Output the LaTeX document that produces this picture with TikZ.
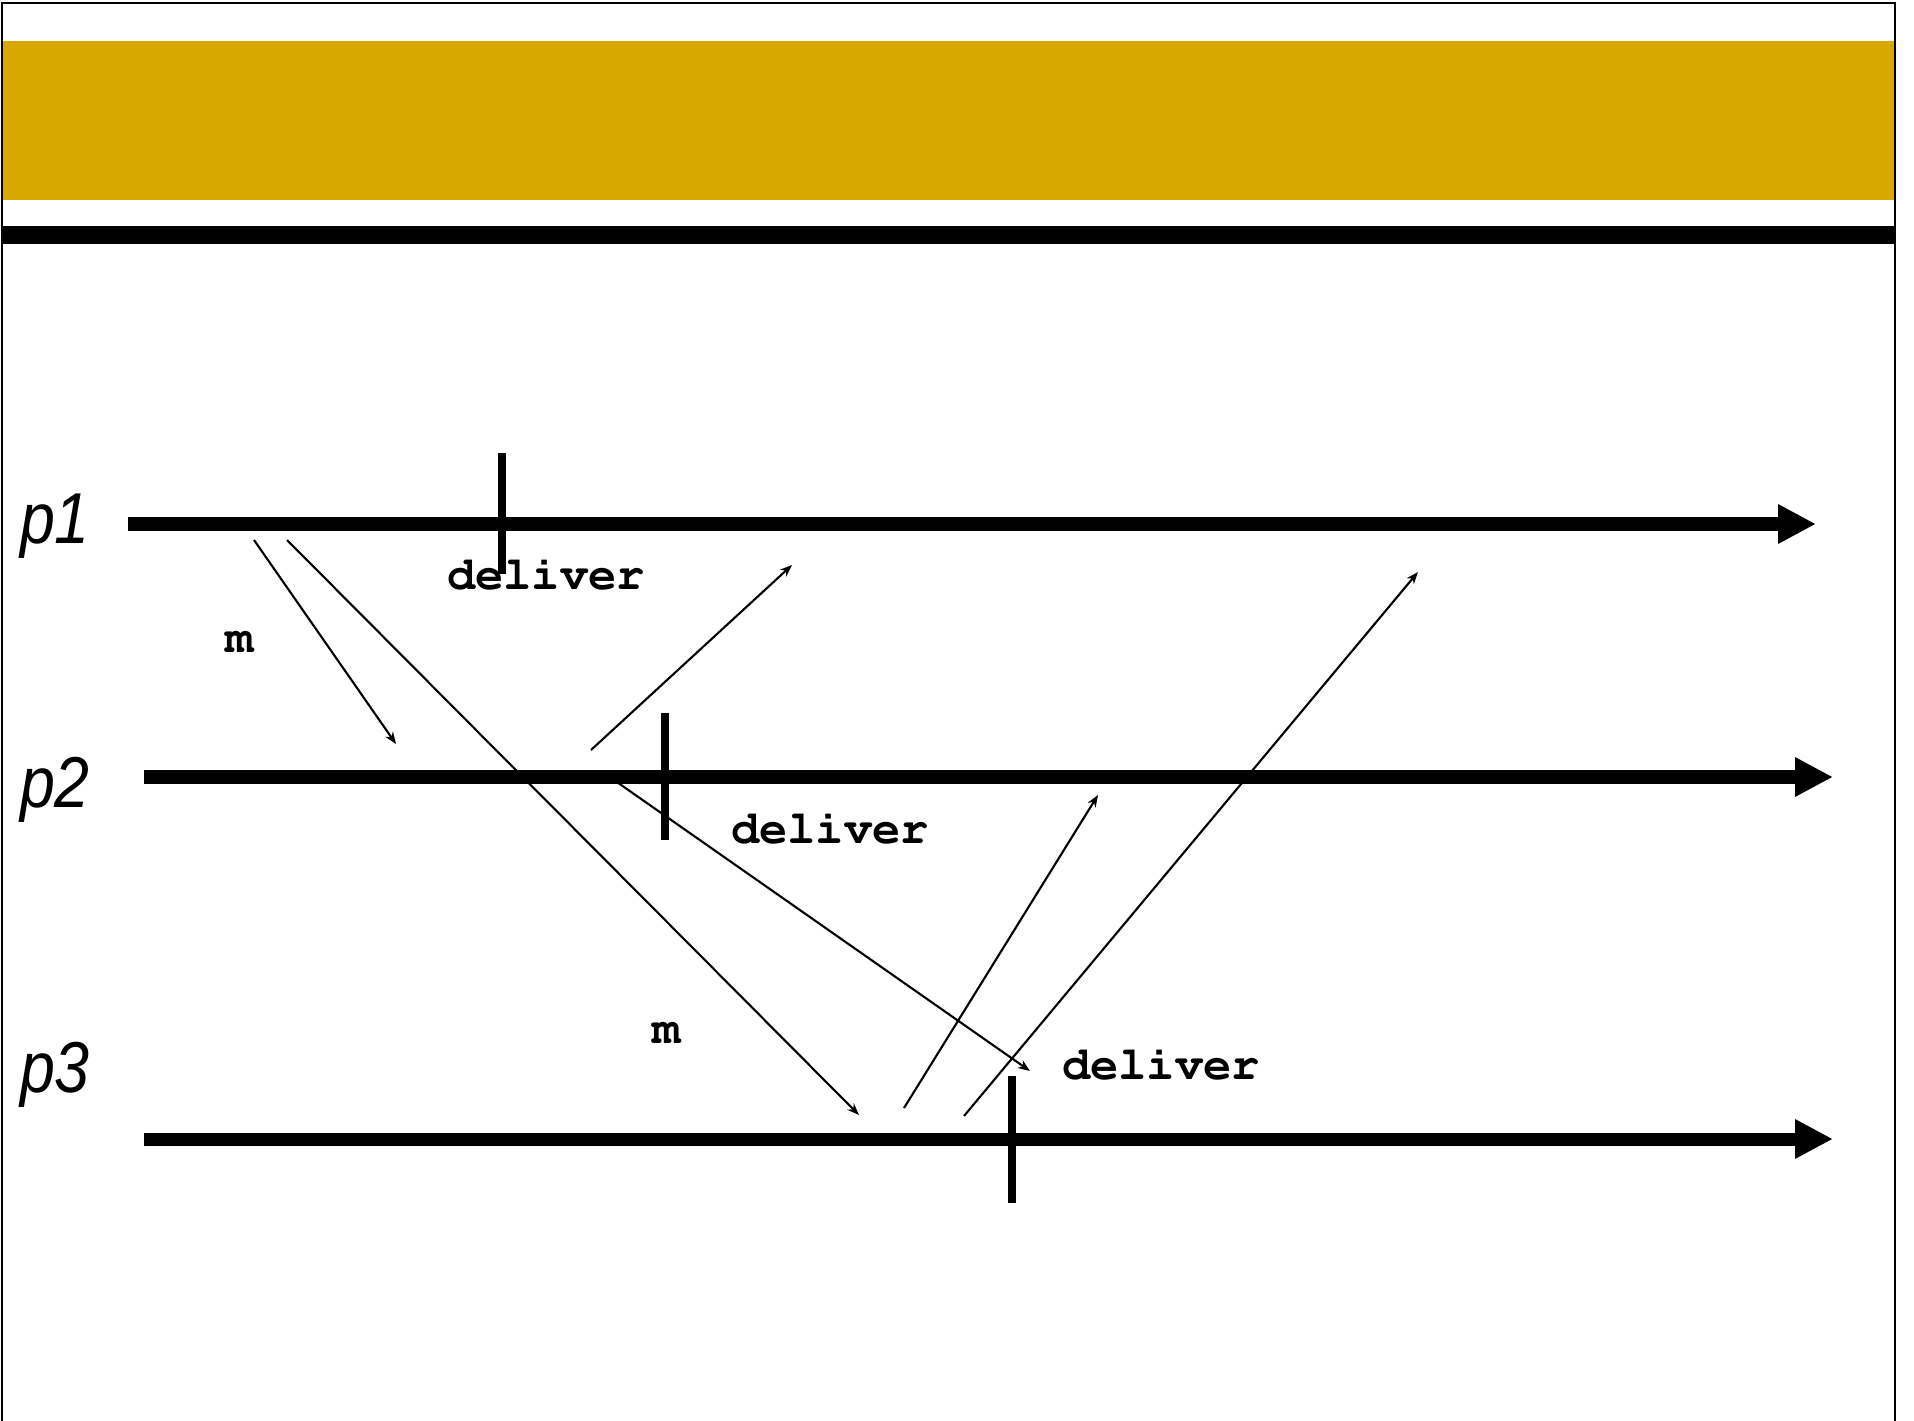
\documentclass[tikz,border=0pt]{standalone}
\usepackage[T1]{fontenc}
\usepackage{fontspec}
\usepackage{tikz}
\usetikzlibrary{arrows.meta}
\newfontfamily\procfont{Liberation Sans}
\newcommand\msgfont{\usefont{T1}{pcr}{b}{n}}
\definecolor{bandgold}{RGB}{214,168,0}

\begin{document}
\begin{tikzpicture}[x=0.01cm,y=-0.01cm,
  timeline/.style={line width=3.7pt,-{Triangle[length=10.8pt,width=10.5pt]}},
  event/.style={line width=2pt},
  message/.style={line width=0.6pt,-{Stealth[length=3.4pt,width=2.6pt]}},
  proc/.style={font=\procfont\itshape\fontsize{20.5}{20.5}\selectfont,anchor=base},
  tag/.style={font=\msgfont\fontsize{13.4}{13.4}\selectfont,anchor=base}]
  \useasboundingbox (0,0) rectangle (1914,1421);
  %header
  \fill[bandgold] (2,41) rectangle (1894,200);
  \fill[black] (2,226) rectangle (1894,244);
  \draw[line width=0.6pt] (2,1421) -- (2,3) -- (1895,3) -- (1895,1421);

  %processes
  \coordinate (p1-start) at (128,524); \coordinate (p1-end) at (1816,524);
  \coordinate (p2-start) at (144,777); \coordinate (p2-end) at (1833,777);
  \coordinate (p3-start) at (144,1139); \coordinate (p3-end) at (1833,1139);
  \draw[timeline] (p1-start) -- (p1-end);
  \draw[timeline] (p2-start) -- (p2-end);
  \draw[timeline] (p3-start) -- (p3-end);
  \node[proc] (p1) at (55,543) {\scalebox{0.87}[1]{p1}};
  \node[proc] (p2) at (55,807) {\scalebox{0.87}[1]{p2}};
  \node[proc] (p3) at (55,1092) {\scalebox{0.87}[1]{p3}};

  %deliveries
  \coordinate (t1-top) at (502,453); \coordinate (t1-bottom) at (502,574);
  \coordinate (t2-top) at (665,713); \coordinate (t2-bottom) at (665,840);
  \coordinate (t3-top) at (1012,1076); \coordinate (t3-bottom) at (1012,1203);
  \draw[event] (t1-top) -- (t1-bottom);
  \draw[event] (t2-top) -- (t2-bottom);
  \draw[event] (t3-top) -- (t3-bottom);
  \node[tag] (d1) at (546,589) {deliver};
  \node[tag] (d2) at (830,843) {deliver};
  \node[tag] (d3) at (1161,1079) {deliver};

  %messages
  \coordinate (m1-from) at (254,540); \coordinate (m1-to) at (396,744);
  \coordinate (m2-from) at (287,540); \coordinate (m2-to) at (859,1115);
  \coordinate (a1-from) at (591,750); \coordinate (a1-to) at (792,565);
  \coordinate (a2-from) at (614,780); \coordinate (a2-to) at (1030,1071);
  \coordinate (a3-from) at (904,1108); \coordinate (a3-to) at (1098,795);
  \coordinate (a4-from) at (964,1116); \coordinate (a4-to) at (1418,572);
  \draw[message] (m1-from) -- (m1-to);
  \draw[message] (m2-from) -- (m2-to);
  \draw[message] (a1-from) -- (a1-to);
  \draw[message] (a2-from) -- (a2-to);
  \draw[message] (a3-from) -- (a3-to);
  \draw[message] (a4-from) -- (a4-to);
  \node[tag] (m1) at (240,652) {m};
  \node[tag] (m2) at (667,1043) {m};
\end{tikzpicture}
\end{document}
